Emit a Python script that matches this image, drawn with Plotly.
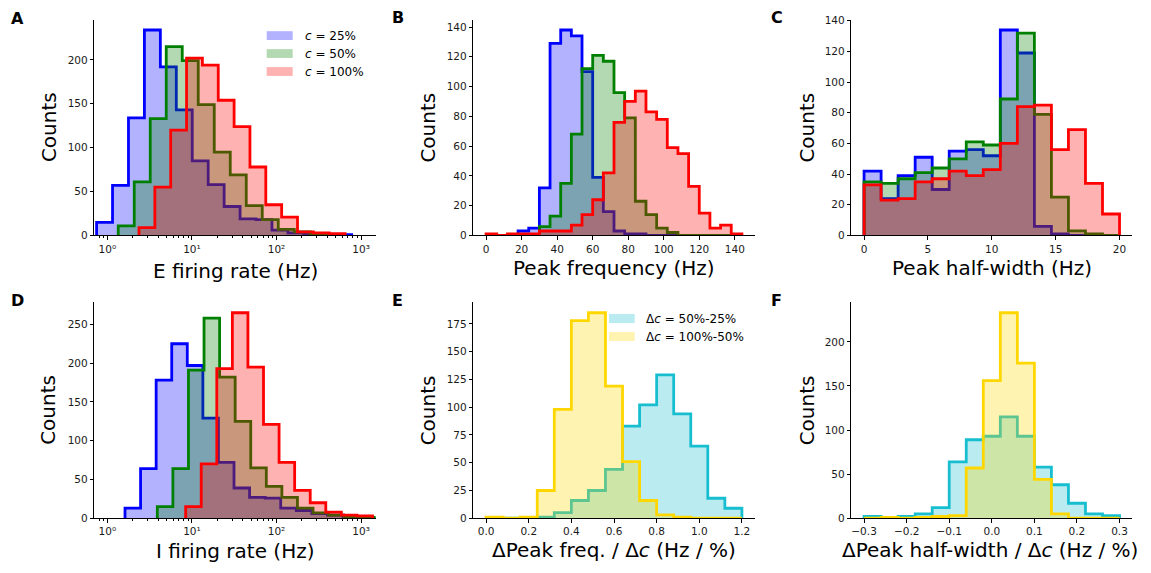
import numpy as np
import plotly.graph_objects as go

# ---------------- data ----------------
# Panel A: E firing rate, log-spaced bins (log10 of first edge, log10 bin width)
A_blue_lo, A_blue_w = -0.127, 0.1885
A_blue = [15, 57, 134, 234, 192, 143, 85, 58, 33, 19, 18, 6, 3, 2, 1, 1]
A_green_lo, A_green_w = 0.129, 0.1892
A_green = [11, 61, 133, 215, 199, 149, 95, 69, 34, 18, 7, 4, 2, 1]
A_red_lo, A_red_w = 0.3745, 0.1874
A_red = [9, 55, 120, 202, 194, 154, 124, 78, 35, 21, 4, 3, 2]

# Panel B: peak frequency, bins 0..144 Hz (6 Hz wide)
B_edges = list(range(0, 145, 6))
B_blue = [0, 0, 0, 3, 5, 32, 129, 138, 134, 110, 39, 16, 3, 1, 1, 0, 0, 0, 0, 0, 0, 0, 0, 0]
B_green = [0, 0, 0, 0, 0, 6, 13, 35, 68, 112, 121, 117, 96, 79, 23, 14, 5, 2, 0, 0, 0, 0, 0, 0]
B_red = [1, 0, 1, 1, 1, 3, 3, 3, 7, 14, 24, 42, 76, 90, 97, 83, 78, 59, 55, 33, 15, 5, 7, 1]

# Panel C: peak half-width, 15 bins over 0..20 Hz
C_lo, C_hi, C_n = 0.0, 20.0, 15
C_blue = [42, 24, 39, 51, 30, 55, 56, 52, 134, 119, 6, 1, 0, 0, 0]
C_green = [35, 34, 37, 41, 44, 50, 61, 59, 89, 132, 79, 25, 3, 1, 0]
C_red = [33, 23, 24, 35, 37, 42, 39, 43, 60, 84, 85, 56, 69, 34, 14]

# Panel D: I firing rate, log-spaced bins
D_blue_lo, D_blue_w = 0.209, 0.1841
D_blue = [13, 64, 178, 225, 197, 129, 72, 39, 27, 26, 13, 10, 6, 4, 2]
D_green_lo, D_green_w = 0.591, 0.1841
D_green = [15, 64, 191, 258, 182, 125, 65, 41, 27, 13, 7, 4, 2, 1]
D_red_lo, D_red_w = 0.926, 0.1841
D_red = [15, 70, 193, 265, 195, 121, 72, 36, 20, 8, 4, 3]

# Panel E: delta peak freq / delta c, 15 bins over 0..1.2
E_lo, E_hi, E_n = 0.0, 1.2, 15
E_cyan = [0, 0, 0, 1, 5, 16, 25, 44, 83, 102, 129, 94, 65, 18, 9]
E_yellow = [1, 0, 1, 25, 98, 178, 185, 119, 51, 16, 3, 1, 0, 0, 0]

# Panel F: delta peak half-width / delta c, 15 bins over -0.3..0.3
F_lo, F_hi, F_n = -0.3, 0.3, 15
F_cyan = [2, 1, 2, 5, 12, 64, 89, 93, 115, 93, 58, 38, 17, 5, 3]
F_yellow = [0, 1, 0, 1, 2, 3, 57, 156, 233, 176, 44, 5, 0, 0, 0]

c_labels = ["<i>c</i> = 25%", "<i>c</i> = 50%", "<i>c</i> = 100%"]
d_labels = ["Δ<i>c</i> = 50%-25%", "Δ<i>c</i> = 100%-50%"]
log_tick_vals = [1, 10, 100, 1000]
log_tick_text = ["10⁰", "10¹", "10²", "10³"]

# ---------------- styling ----------------
W, H = 1151, 573
FONT = "DejaVu Sans"
COL = {
    "blue": ("#0000ff", "rgba(0,0,255,0.3)"),
    "green": ("#008000", "rgba(0,128,0,0.3)"),
    "red": ("#ff0000", "rgba(255,0,0,0.3)"),
    "cyan": ("#17becf", "rgba(23,190,207,0.3)"),
    "yellow": ("#ffd700", "rgba(255,215,0,0.3)"),
}
LW = 2.8


def log_edges(lo, w, n):
    return list(10 ** (lo + w * np.arange(n + 1)))


def lin_edges(lo, hi, n):
    return list(np.linspace(lo, hi, n + 1))


def step_trace(edges, counts, color, xa, ya):
    xs = [edges[0]] + list(edges[:-1]) + [edges[-1]]
    ys = [0] + list(counts) + [0]
    line_c, fill_c = COL[color]
    return go.Scatter(x=xs, y=ys, mode="lines", line=dict(shape="hv", color=line_c, width=LW),
                      fill="tozeroy", fillcolor=fill_c, xaxis=xa, yaxis=ya,
                      showlegend=False, hoverinfo="skip")


fig = go.Figure()

panels = {
    1: [(log_edges(A_blue_lo, A_blue_w, len(A_blue)), A_blue, "blue"),
        (log_edges(A_green_lo, A_green_w, len(A_green)), A_green, "green"),
        (log_edges(A_red_lo, A_red_w, len(A_red)), A_red, "red")],
    2: [(B_edges, B_blue, "blue"), (B_edges, B_green, "green"), (B_edges, B_red, "red")],
    3: [(lin_edges(C_lo, C_hi, C_n), C_blue, "blue"), (lin_edges(C_lo, C_hi, C_n), C_green, "green"),
        (lin_edges(C_lo, C_hi, C_n), C_red, "red")],
    4: [(log_edges(D_blue_lo, D_blue_w, len(D_blue)), D_blue, "blue"),
        (log_edges(D_green_lo, D_green_w, len(D_green)), D_green, "green"),
        (log_edges(D_red_lo, D_red_w, len(D_red)), D_red, "red")],
    5: [(lin_edges(E_lo, E_hi, E_n), E_cyan, "cyan"), (lin_edges(E_lo, E_hi, E_n), E_yellow, "yellow")],
    6: [(lin_edges(F_lo, F_hi, F_n), F_cyan, "cyan"), (lin_edges(F_lo, F_hi, F_n), F_yellow, "yellow")],
}

for i, lst in panels.items():
    xa = "x" if i == 1 else f"x{i}"
    ya = "y" if i == 1 else f"y{i}"
    for edges, counts, color in lst:
        fig.add_trace(step_trace(edges, counts, color, xa, ya))

# axes geometry in pixels
colx = [(94.3, 375.7), (473.3, 754.7), (851.3, 1132.3)]
rowy = [(15, 235), (303.3, 523.3)]


def dom_x(a, b):
    return [a / W, b / W]


def dom_y(top, bot):
    return [1 - bot / H, 1 - top / H]


tickfont = dict(family=FONT, size=10.5, color="#1a1a1a")
base_ax = dict(showline=True, linecolor="black", linewidth=1, ticks="outside", ticklen=3.5,
               tickwidth=1, tickcolor="black", showgrid=False, zeroline=False,
               tickfont=tickfont, fixedrange=True)

minor_log = dict(ticks="outside", ticklen=2, tickwidth=0.8, tickcolor="black",
                 tickvals=[0.7, 0.8, 0.9] + [k * m for m in (1, 10, 100) for k in range(2, 10)])
log_ax = dict(type="log", range=[-0.154, 3.173], tickvals=log_tick_vals,
              ticktext=log_tick_text, minor=minor_log)

xspec = {
    1: log_ax,
    2: dict(range=[-7.2, 151.2], tick0=0, dtick=20),
    3: dict(range=[-1.0, 21.0], tick0=0, dtick=5),
    4: log_ax,
    5: dict(range=[-0.06, 1.26], tick0=0, dtick=0.2, tickformat=".1f"),
    6: dict(range=[-0.33, 0.33], tick0=0, dtick=0.1, tickformat=".1f"),
}
yspec = {
    1: dict(range=[0, 245.7], tick0=0, dtick=50),
    2: dict(range=[0, 144.9], tick0=0, dtick=20),
    3: dict(range=[0, 140.7], tick0=0, dtick=20),
    4: dict(range=[0, 278.25], tick0=0, dtick=50),
    5: dict(range=[0, 194.25], tick0=0, dtick=25),
    6: dict(range=[0, 244.65], tick0=0, dtick=50),
}

layout_axes = {}
for i in range(1, 7):
    r = 0 if i <= 3 else 1
    c = (i - 1) % 3
    xk = "xaxis" if i == 1 else f"xaxis{i}"
    yk = "yaxis" if i == 1 else f"yaxis{i}"
    ya = "y" if i == 1 else f"y{i}"
    xa = "x" if i == 1 else f"x{i}"
    layout_axes[xk] = dict(base_ax, domain=dom_x(*colx[c]), anchor=ya, **xspec[i])
    layout_axes[yk] = dict(base_ax, domain=dom_y(*rowy[r]), anchor=xa, **yspec[i])

fig.update_layout(**layout_axes)

annotations = []
shapes = []


def ann(text, px, py, size, xanchor="center", yanchor="middle", angle=0, bold=False):
    annotations.append(dict(text=f"<b>{text}</b>" if bold else text, x=px / W, y=1 - py / H,
                            xref="paper", yref="paper", xanchor=xanchor, yanchor=yanchor,
                            showarrow=False, textangle=angle,
                            font=dict(family=FONT, size=size, color="black")))


# panel letters
for lab, px, py in [("A", 9, 13.5), ("B", 390, 13), ("C", 769, 13),
                    ("D", 9, 301.5), ("E", 390, 301.5), ("F", 769, 301.5)]:
    ann(lab, px, py, 16, xanchor="left", bold=True)

# axis titles
xtitles = [("E firing rate (Hz)", 235, 271.3), ("Peak frequency (Hz)", 614, 268),
           ("Peak half-width (Hz)", 991.8, 268), ("I firing rate (Hz)", 235, 557),
           ("ΔPeak freq. / Δ<i>c</i> (Hz / %)", 614, 556),
           ("ΔPeak half-width / Δ<i>c</i> (Hz / %)", 990, 556)]
for t, px, py in xtitles:
    ann(t, px, py, 20)
for px in (48.5, 428, 807):
    ann("Counts", px, 125, 20, angle=-90)
    ann("Counts", px, 413.3, 20, angle=-90)

# legend panel A
for k, (color, lab) in enumerate(zip(["blue", "green", "red"], c_labels)):
    y0 = 26.7 + k * 18.3
    shapes.append(dict(type="rect", xref="paper", yref="paper", x0=266.7 / W, x1=292.7 / W,
                       y0=1 - (y0 + 9) / H, y1=1 - y0 / H, fillcolor=COL[color][1], line=dict(width=0)))
    ann(lab, 302.7, y0 + 5.3, 12, xanchor="left")

# legend panel E
for k, (color, lab) in enumerate(zip(["cyan", "yellow"], d_labels)):
    y0 = 315 + k * 18.3
    shapes.append(dict(type="rect", xref="paper", yref="paper", x0=609 / W, x1=634.7 / W,
                       y0=1 - (y0 + 9.3) / H, y1=1 - y0 / H, fillcolor=COL[color][1], line=dict(width=0)))
    ann(lab, 644, y0 + 5.5, 12, xanchor="left")

fig.update_layout(width=W, height=H, margin=dict(l=0, r=0, t=0, b=0),
                  paper_bgcolor="white", plot_bgcolor="white",
                  font=dict(family=FONT, color="black"),
                  annotations=annotations, shapes=shapes, showlegend=False)

fig.write_html("out.html", config={"displayModeBar": False},
               post_script="document.body.style.margin='0';document.body.style.overflow='hidden';")
